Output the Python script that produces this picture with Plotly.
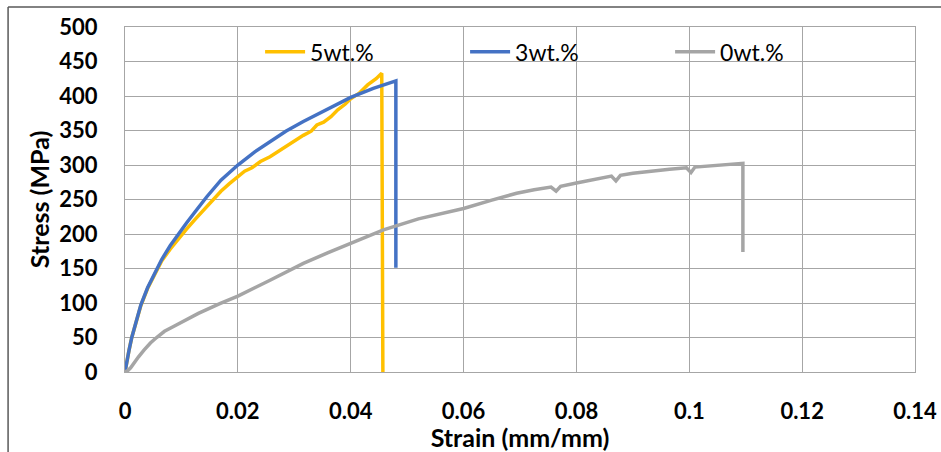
import plotly.graph_objects as go

# ---- data ----
strain_5 = [0, 0.0003, 0.0007, 0.0012, 0.002, 0.0028, 0.004, 0.0054, 0.0065, 0.008,
            0.0095, 0.0109, 0.0125, 0.0137, 0.015, 0.017, 0.0185, 0.02, 0.0212,
            0.0225, 0.024, 0.0257, 0.027, 0.0285, 0.03, 0.0316, 0.033, 0.034, 0.0352,
            0.0365, 0.0377, 0.039, 0.04, 0.0415, 0.043, 0.0445, 0.0455, 0.0457]
stress_5 = [0, 15, 31, 50, 74, 96, 121, 145, 161, 178,
            194, 207, 222, 233, 245, 262, 273, 283, 291,
            296, 305, 312, 319, 327, 334, 343, 349, 358, 362,
            370, 380, 388, 396, 404, 416, 425, 433, 0]

strain_3 = [0, 0.0003, 0.0007, 0.0012, 0.002, 0.0028, 0.004, 0.0054, 0.0065, 0.008,
            0.0097, 0.0109, 0.0125, 0.0145, 0.017, 0.02, 0.023, 0.0257, 0.0285,
            0.0316, 0.036, 0.04, 0.044, 0.048, 0.048]
stress_3 = [0, 15, 31, 50, 75, 97, 122, 146, 163, 183,
            203, 216, 233, 254, 278, 300, 319, 334, 349,
            363, 382, 398, 411, 422, 151]

strain_0 = [0, 0.0005, 0.001, 0.0015, 0.0024, 0.0034, 0.0045, 0.0056, 0.007,
            0.0086, 0.011, 0.013, 0.0168, 0.02, 0.0257, 0.0316, 0.036, 0.0399,
            0.0458, 0.052, 0.06, 0.065, 0.0694, 0.0725, 0.0755, 0.0764, 0.0772, 0.08,
            0.083, 0.0862, 0.087, 0.0878, 0.09, 0.093, 0.0965, 0.0995, 0.1003, 0.101,
            0.105, 0.1095, 0.1095]
stress_0 = [0, 2, 6, 12, 22, 32, 42, 50, 59,
            66, 76, 85, 99, 110, 133, 157.5, 173, 186.5,
            206, 222, 237, 249, 259, 264, 268, 262, 269, 274,
            279, 284, 277, 285, 288, 291, 294, 296, 289, 297,
            300, 302.5, 174]

x_ticks = [0, 0.02, 0.04, 0.06, 0.08, 0.1, 0.12, 0.14]
x_tick_text = ["0", "0.02", "0.04", "0.06", "0.08", "0.1", "0.12", "0.14"]
y_ticks = [0, 50, 100, 150, 200, 250, 300, 350, 400, 450, 500]

FONT = "Lato"
grid = "#A6A6A6"

fig = go.Figure()
fig.add_trace(go.Scatter(x=strain_5, y=stress_5, mode="lines", name="5wt.%",
                         line=dict(color="#FFC000", width=3.5)))
fig.add_trace(go.Scatter(x=strain_3, y=stress_3, mode="lines", name="3wt.%",
                         line=dict(color="#4472C4", width=3.5)))
fig.add_trace(go.Scatter(x=strain_0, y=stress_0, mode="lines", name="0wt.%",
                         line=dict(color="#A5A5A5", width=3.5)))

fig.update_layout(
    width=941, height=452,
    margin=dict(l=125, r=26, t=27, b=80, autoexpand=False),
    paper_bgcolor="white", plot_bgcolor="white",
    font=dict(family=FONT, size=22, color="black"),
    showlegend=True,
    legend=dict(orientation="h", x=0.171, y=0.928, xanchor="left", yanchor="middle",
                bgcolor="rgba(0,0,0,0)", font=dict(family=FONT, size=23),
                entrywidth=150, itemwidth=40),
    xaxis=dict(range=[0, 0.14], tickvals=x_ticks, ticktext=x_tick_text,
               automargin=False,
               showgrid=True, gridcolor=grid, gridwidth=1,
               showline=True, linecolor=grid, mirror=True, zeroline=False,
               ticks="", ticklabelstandoff=20,
               tickfont=dict(family=FONT, size=22, color="black", weight="bold"),
               title=dict(text="<b>Strain (mm/mm)</b>", standoff=6,
                          font=dict(family=FONT, size=25, color="black"))),
    yaxis=dict(range=[0, 500], tickvals=y_ticks,
               automargin=False,
               showgrid=True, gridcolor=grid, gridwidth=1,
               showline=True, linecolor=grid, mirror=True, zeroline=False,
               ticks="", ticklabelstandoff=22,
               tickfont=dict(family=FONT, size=22, color="black", weight="bold"),
               title=dict(text="<b>Stress (MPa)</b>", standoff=2,
                          font=dict(family=FONT, size=25, color="black"))),
    shapes=[
        dict(type="line", xref="paper", yref="paper", x0=-0.148, x1=1.05, y0=1.058, y1=1.058,
             line=dict(color="#595959", width=1.5)),
        dict(type="line", xref="paper", yref="paper", x0=-0.148, x1=-0.148, y0=1.058, y1=-0.3,
             line=dict(color="#595959", width=1.5)),
    ],
)

fig.write_html("out.html")
